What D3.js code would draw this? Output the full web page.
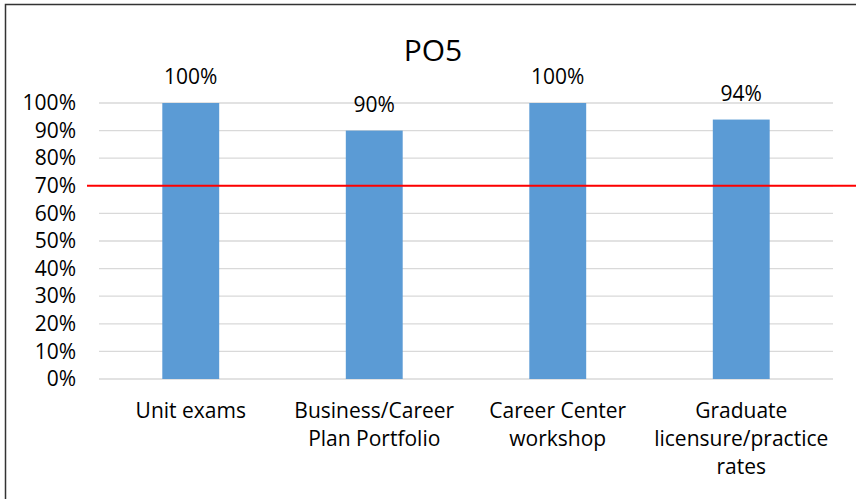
<!DOCTYPE html>
<html>
<head>
<meta charset="utf-8">
<script src="https://cdn.jsdelivr.net/npm/d3@7"></script>
<style>
  body { margin: 0; background: #fff; }
  text { font-family: "Open Sans", "Noto Sans", sans-serif; fill: #000; }
</style>
</head>
<body>
<div class="vis-barchart"></div>
<script>
const categories = [
    ["Unit exams"],
    ["Business/Career", "Plan Portfolio"],
    ["Career Center", "workshop"],
    ["Graduate", "licensure/practice", "rates"]
];
const values = [100, 90, 100, 94];
const yTicks = [0, 10, 20, 30, 40, 50, 60, 70, 80, 90, 100];
const target = 70;
const title = "PO5";

const W = 856, H = 499;
const margin = {top: 103, right: 23, bottom: 120, left: 99};
const width = W - margin.left - margin.right;
const height = H - margin.top - margin.bottom;

const root = d3.select('.vis-barchart').append('svg')
    .attr('width', W)
    .attr('height', H);

// outer frame (left + top edges visible)
root.append('path')
    .attr('d', 'M5.5,' + H + ' V4.5 H' + W)
    .attr('fill', 'none')
    .attr('stroke', '#333')
    .attr('stroke-width', 1.5);

const svg = root.append('g')
    .attr('transform', 'translate(' + margin.left + ',' + margin.top + ')');

const x = d3.scaleBand()
    .domain(d3.range(categories.length))
    .range([0, width])
    .padding(0);
const y = d3.scaleLinear()
    .domain([0, 100])
    .range([height, 0]);
const barW = x.bandwidth() * 0.31;

// gridlines
svg.selectAll('.grid')
    .data(yTicks)
    .enter().append('line')
    .attr('x1', 0).attr('x2', width)
    .attr('y1', d => y(d)).attr('y2', d => y(d))
    .attr('stroke', '#d9d9d9')
    .attr('stroke-width', 1.3);

// y axis labels
const yAxis = svg.append('g')
    .call(d3.axisLeft(y).tickValues(yTicks).tickFormat(d => d + '%').tickSize(0).tickPadding(23));
yAxis.select('.domain').remove();
yAxis.selectAll('text')
    .style('font-family', '"Open Sans", sans-serif')
    .style('font-size', '21px')
    .attr('fill', '#000');

// bars
svg.selectAll('.bar')
    .data(values)
    .enter().append('rect')
    .attr('fill', '#5b9bd5')
    .attr('x', (d, i) => x(i) + (x.bandwidth() - barW) / 2)
    .attr('width', barW)
    .attr('y', d => y(d))
    .attr('height', d => height - y(d));

// value labels
svg.selectAll('.lbl')
    .data(values)
    .enter().append('text')
    .attr('x', (d, i) => x(i) + x.bandwidth() / 2)
    .attr('y', d => y(d) - 19)
    .attr('text-anchor', 'middle')
    .style('font-size', '21px')
    .text(d => d + '%');

// category labels
const cat = svg.selectAll('.cat')
    .data(categories)
    .enter().append('text')
    .attr('text-anchor', 'middle')
    .attr('transform', (d, i) => 'translate(' + (x(i) + x.bandwidth() / 2) + ',' + (height + 39) + ')')
    .style('font-size', '21px');
cat.selectAll('tspan')
    .data(d => d)
    .enter().append('tspan')
    .attr('x', 0)
    .attr('dy', (d, j) => j === 0 ? 0 : 28)
    .text(d => d);

// target line
svg.append('line')
    .attr('x1', -12).attr('x2', W - margin.left)
    .attr('y1', y(target)).attr('y2', y(target))
    .attr('stroke', '#ff0000')
    .attr('stroke-width', 2);

// title
root.append('text')
    .attr('x', 433)
    .attr('y', 61)
    .attr('text-anchor', 'middle')
    .style('font-size', '30px')
    .text(title);
</script>
</body>
</html>
